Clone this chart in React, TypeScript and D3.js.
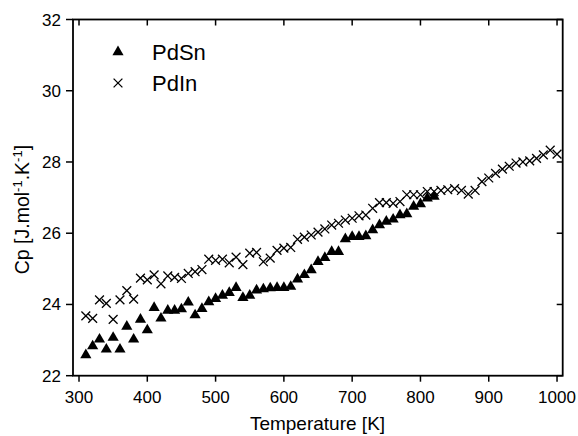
import React from "react";
import * as d3 from "d3";

const temps: number[] = d3.range(310, 1001, 10);

const pdSnT: number[] = d3.range(310, 821, 10);
const pdSnCp: number[] = [
  22.58, 22.83, 23.02, 22.74, 23.07, 22.74, 23.38, 23.02, 23.58, 23.28,
  23.91, 23.61, 23.83, 23.83, 23.87, 24.06, 23.70, 23.88, 24.07, 24.16,
  24.25, 24.33, 24.47, 24.19, 24.25, 24.40, 24.43, 24.46, 24.47, 24.47,
  24.50, 24.71, 24.83, 24.97, 25.20, 25.31, 25.48, 25.48, 25.84, 25.90,
  25.90, 25.92, 26.09, 26.23, 26.33, 26.39, 26.51, 26.54, 26.75, 26.82,
  26.98, 27.03,
];

const pdInT: number[] = temps;
const pdInCp: number[] = [
  23.68, 23.61, 24.13, 24.03, 23.58, 24.13, 24.39, 24.15, 24.74, 24.69,
  24.83, 24.58, 24.80, 24.76, 24.73, 24.87, 24.92, 24.98, 25.27, 25.24,
  25.27, 25.17, 25.33, 25.12, 25.44, 25.46, 25.20, 25.30, 25.52, 25.58,
  25.60, 25.83, 25.89, 25.95, 26.03, 26.12, 26.23, 26.28, 26.37, 26.42,
  26.49, 26.51, 26.70, 26.86, 26.86, 26.84, 26.89, 27.08, 27.08, 27.08,
  27.17, 27.17, 27.20, 27.22, 27.25, 27.20, 27.10, 27.20, 27.45, 27.55,
  27.68, 27.80, 27.88, 27.97, 28.00, 28.03, 28.10, 28.20, 28.33, 28.22,
];

const xTicks: number[] = [300, 400, 500, 600, 700, 800, 900, 1000];
const yTicks: number[] = [22, 24, 26, 28, 30, 32];
const legendLabels: string[] = ["PdSn", "PdIn"];

const FONT = "'Liberation Sans', Arial, Helvetica, sans-serif";

export default function App() {
  const W = 578, H = 436;
  const left = 73, right = 562.7, top = 19.5, bottom = 375.7;
  const x = d3.scaleLinear().domain([291.2, 1008.3]).range([left, right]);
  const y = d3.scaleLinear().domain([22, 32]).range([bottom, top]);
  const tri = d3.symbol().type(d3.symbolTriangle).size(54)();
  const crossPath = (s: number) => `M${-s},${-s}L${s},${s}M${-s},${s}L${s},${-s}`;

  return (
    <svg width={W} height={H} style={{ position: "absolute", left: 0, top: 0, background: "#fff" }}>
      <rect x={0} y={0} width={W} height={H} fill="#fff" />
      {/* frame */}
      <rect x={left} y={top} width={right - left} height={bottom - top} fill="none" stroke="#000" strokeWidth={1.8} />
      {/* x ticks */}
      {xTicks.map((t) => (
        <g key={"x" + t}>
          <line x1={x(t)} x2={x(t)} y1={bottom} y2={bottom + 6} stroke="#000" strokeWidth={1.5} />
          <line x1={x(t)} x2={x(t)} y1={top} y2={top + 6} stroke="#000" strokeWidth={1.5} />
          <text x={x(t)} y={403} textAnchor="middle" fontFamily={FONT} fontSize={17} fill="#000">{t}</text>
        </g>
      ))}
      {/* y ticks */}
      {yTicks.map((t) => (
        <g key={"y" + t}>
          <line x1={left - 7} x2={left} y1={y(t)} y2={y(t)} stroke="#000" strokeWidth={1.5} />
          <line x1={right - 6} x2={right} y1={y(t)} y2={y(t)} stroke="#000" strokeWidth={1.5} />
          <text x={61} y={y(t) + 6} textAnchor="end" fontFamily={FONT} fontSize={17} fill="#000">{t}</text>
        </g>
      ))}
      {/* axis titles */}
      <text x={317.5} y={430} textAnchor="middle" fontFamily={FONT} fontSize={19} fill="#000">Temperature [K]</text>
      <text transform={`translate(29,${(top + bottom) / 2 + 12}) rotate(-90)`} textAnchor="middle" fontFamily={FONT} fontSize={19.5} fill="#000">
        Cp [J.mol<tspan dy={-7} fontSize={13}>-1</tspan><tspan dy={7}>.K</tspan><tspan dy={-7} fontSize={13}>-1</tspan><tspan dy={7}>]</tspan>
      </text>
      {/* data: PdIn crosses */}
      {pdInT.map((t, i) => (
        <path key={"c" + i} d={crossPath(4.4)} transform={`translate(${x(t)},${y(pdInCp[i])})`} stroke="#000" strokeWidth={1.3} fill="none" />
      ))}
      {/* data: PdSn triangles */}
      {pdSnT.map((t, i) => (
        <path key={"t" + i} d={tri as string} transform={`translate(${x(t)},${y(pdSnCp[i])})`} fill="#000" />
      ))}
      {/* legend */}
      <path d={tri as string} transform="translate(118,52)" fill="#000" />
      <text x={152} y={60} fontFamily={FONT} fontSize={22} fill="#000">{legendLabels[0]}</text>
      <path d={crossPath(4.4)} transform="translate(118,83)" stroke="#000" strokeWidth={1.3} fill="none" />
      <text x={152} y={91} fontFamily={FONT} fontSize={22} fill="#000">{legendLabels[1]}</text>
    </svg>
  );
}
